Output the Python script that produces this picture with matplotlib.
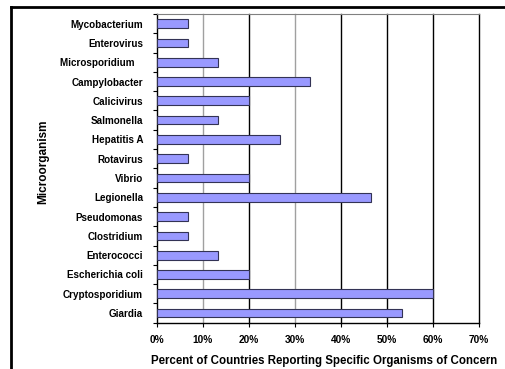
import numpy as np
import matplotlib.pyplot as plt
from matplotlib.lines import Line2D

plt.rcParams['font.family'] = ['Liberation Sans', 'DejaVu Sans']

# organisms listed bottom to top
organisms = ["Giardia", "Cryptosporidium", "Escherichia coli", "Enterococci",
             "Clostridium", "Pseudomonas", "Legionella", "Vibrio", "Rotavirus",
             "Hepatitis A", "Salmonella", "Calicivirus", "Campylobacter",
             "Microsporidium   ", "Enterovirus", "Mycobacterium"]
# number of countries (out of 15) reporting each organism
countries = [8, 9, 3, 2, 1, 1, 7, 3, 1, 4, 2, 3, 5, 2, 1, 1]
n_countries = 15
percent = [c / n_countries * 100 for c in countries]

x_ticks = [0, 10, 20, 30, 40, 50, 60, 70]
grid_colors = {10: "#a0a0a0", 30: "#a0a0a0"}

fig = plt.figure(figsize=(5.06, 3.69), dpi=100)
ax = fig.add_axes([157 / 506, 1 - 322.7 / 369, (478.7 - 157) / 506, (322.7 - 14) / 369])

y = np.arange(len(organisms))
ax.barh(y, percent, height=0.45, color="#9999ff", edgecolor="#333355", linewidth=0.8, zorder=3)

for t in x_ticks[1:]:
    ax.axvline(t, color=grid_colors.get(t, "black"), linewidth=1.0, zorder=1, clip_on=False)

ax.set_xlim(0, 70)
ax.set_ylim(-0.5, len(organisms) - 0.5)
ax.set_xticks(x_ticks)
ax.set_xticklabels([f"{t}%" for t in x_ticks], fontsize=7.3, fontweight="bold")
ax.set_yticks(y)
ax.set_yticklabels(organisms, fontsize=7.1, fontweight="bold")
ax.tick_params(axis="y", which="major", length=0, pad=10)
ax.set_yticks(np.arange(-0.5, len(organisms)), minor=True)
ax.tick_params(axis="y", which="minor", length=3, width=0.8, color="black")
ax.tick_params(axis="x", length=3, width=0.8, pad=6)

ax.spines["top"].set_color("#808080")
ax.spines["right"].set_visible(False)
ax.spines["left"].set_linewidth(1.0)
ax.spines["bottom"].set_linewidth(1.0)

ax.set_xlabel("Percent of Countries Reporting Specific Organisms of Concern",
              fontsize=8.3, fontweight="bold", labelpad=7)
ax.xaxis.label.set_x(0.52)
fig.text(43 / 506, 1 - 162 / 369, "Microorganism", rotation=90, fontsize=8.5,
         fontweight="bold", ha="center", va="center")

# outer frame on the left and top edges
fig.add_artist(Line2D([11 / 506, 11 / 506], [0, 1 - 7 / 369], color="black", linewidth=2,
                      transform=fig.transFigure))
fig.add_artist(Line2D([11 / 506, 1], [1 - 7 / 369, 1 - 7 / 369], color="black", linewidth=2,
                      transform=fig.transFigure))

fig.savefig("out.png", dpi=100)
